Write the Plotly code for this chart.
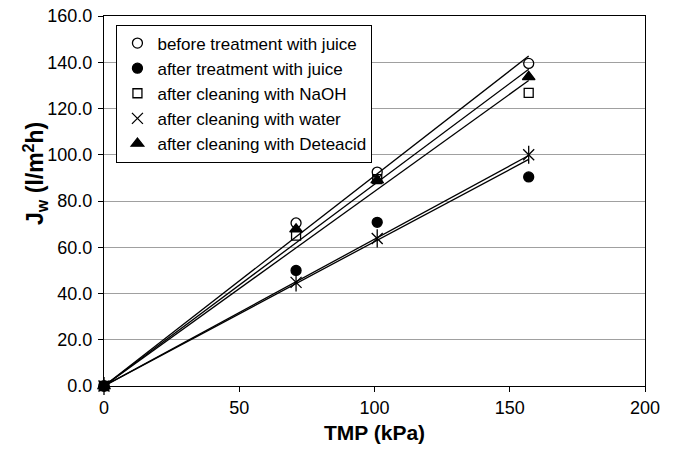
import numpy as np
import plotly.graph_objects as go

# Data
tmp = [0, 71, 101, 157]
series_names = [
    "before treatment with juice",
    "after treatment with juice",
    "after cleaning with NaOH",
    "after cleaning with water",
    "after cleaning with Deteacid",
]
before_juice = [0, 70.5, 92.5, 139.5]
after_juice = [0, 50.0, 70.8, 90.4]
after_naoh = [0, 65.0, 89.5, 126.8]
after_water = [0, 44.8, 63.8, 100.0]
after_deteacid = [0, 67.8, 89.0, 133.7]

x_ticks = [0, 50, 100, 150, 200]
y_ticks = [0, 20, 40, 60, 80, 100, 120, 140, 160]

values = [before_juice, after_juice, after_naoh, after_water, after_deteacid]
symbols = ["circle-open", "circle", "square-open", "x-thin-open", "triangle-up"]
sizes = [10, 10, 9, 11, 11]

fig = go.Figure()

# trendlines (least squares through origin)
xa = np.array(tmp, dtype=float)
for vals in values:
    ya = np.array(vals, dtype=float)
    k = float((xa * ya).sum() / (xa * xa).sum())
    fig.add_trace(go.Scatter(
        x=[0, xa.max()], y=[0, k * xa.max()], mode="lines",
        line=dict(color="black", width=1.3), showlegend=False, hoverinfo="skip",
    ))

for name, vals, sym, sz in zip(series_names, values, symbols, sizes):
    fig.add_trace(go.Scatter(
        x=tmp, y=vals, mode="markers", name=name, legendgroup=name,
        cliponaxis=False,
        marker=dict(symbol=sym, size=sz, color="black",
                    line=dict(color="black", width=1.3)),
    ))
    if sym == "x-thin-open":
        fig.add_trace(go.Scatter(
            x=tmp, y=vals, mode="markers", legendgroup=name, showlegend=False,
            cliponaxis=False,
            marker=dict(symbol="line-ns-open", size=sz + 2, color="black",
                        line=dict(color="black", width=1.3)),
        ))

font_family = "Liberation Sans, Arial, sans-serif"
fig.update_layout(
    width=677, height=449,
    margin=dict(l=104, r=32, t=16, b=63, autoexpand=False),
    paper_bgcolor="white", plot_bgcolor="white",
    font=dict(family=font_family, size=16, color="black"),
    showlegend=True,
    legend=dict(
        x=0.023, y=0.977, xanchor="left", yanchor="top",
        bordercolor="black", borderwidth=1, bgcolor="white",
        font=dict(size=17), itemwidth=30, tracegroupgap=0,
    ),
    xaxis=dict(
        range=[0, 200], tickvals=x_ticks, ticks="outside", ticklen=5,
        tickcolor="black", showline=True, linecolor="black", linewidth=1.3,
        mirror=True, showgrid=False, zeroline=False,
        tickfont=dict(size=18),
        title=dict(text="<b>TMP (kPa)</b>", font=dict(size=21), standoff=8),
    ),
    yaxis=dict(
        range=[0, 160], tickvals=y_ticks, tickformat=".1f", ticks="outside",
        ticklen=5, tickcolor="black", showline=True, linecolor="black",
        linewidth=1.3, mirror=True, showgrid=True, gridcolor="#a0a0a0",
        gridwidth=1, zeroline=False, tickfont=dict(size=18),
        ticklabelstandoff=2,
    ),
    annotations=[dict(
        text="<b>J<sub>w</sub> (l/m<sup>2</sup>h)</b>",
        xref="paper", yref="paper", x=-0.128, y=0.575,
        xanchor="center", yanchor="middle", textangle=-90, showarrow=False,
        font=dict(size=23, family=font_family, color="black"),
    )],
)

fig.write_html("out.html")
